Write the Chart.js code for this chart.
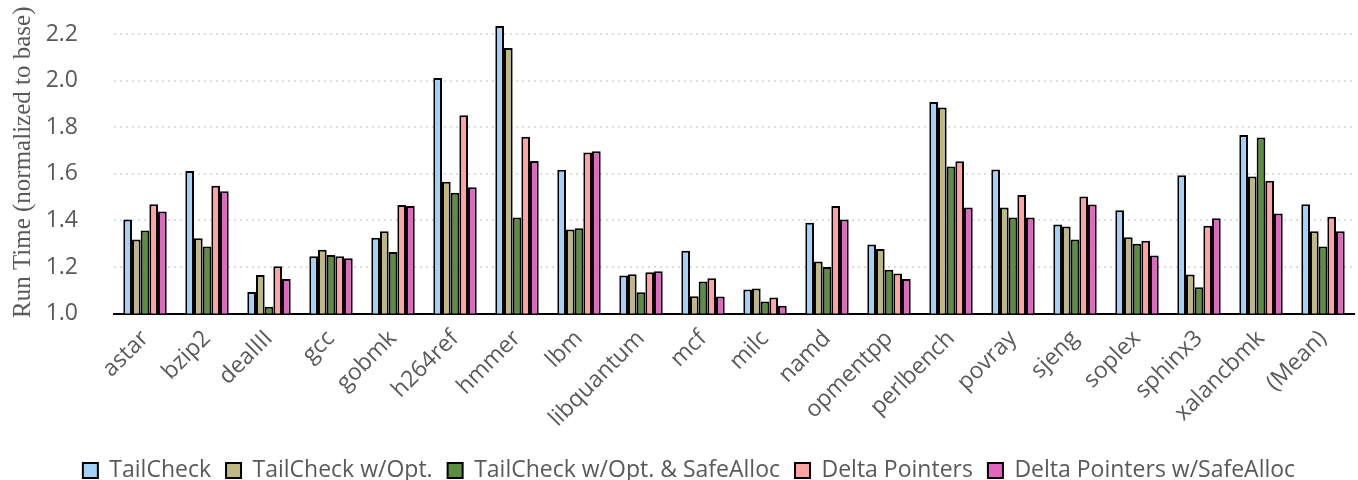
<!DOCTYPE html>
<html><head><meta charset="utf-8">
<script src="https://cdn.jsdelivr.net/npm/chart.js@4/dist/chart.umd.min.js"></script>
<style>html,body{margin:0;padding:0;background:#fff}#wrap{width:1358px;height:480px}</style>
</head><body><div id="wrap"><canvas id="c" width="1358" height="480"></canvas></div>
<script>
const cats = ["astar","bzip2","dealIII","gcc","gobmk","h264ref","hmmer","lbm","libquantum","mcf","milc","namd","opmentpp","perlbench","povray","sjeng","soplex","sphinx3","xalancbmk","(Mean)"];
const seriesNames = ["TailCheck","TailCheck w/Opt.","TailCheck w/Opt. & SafeAlloc","Delta Pointers","Delta Pointers w/SafeAlloc"];
const tailCheck      = [1.404,1.612,1.093,1.246,1.326,2.012,2.236,1.618,1.163,1.270,1.103,1.390,1.297,1.909,1.619,1.383,1.444,1.594,1.767,1.470];
const tailCheckOpt   = [1.318,1.324,1.166,1.274,1.354,1.566,2.141,1.361,1.169,1.074,1.108,1.224,1.277,1.885,1.456,1.374,1.328,1.168,1.589,1.354];
const tailCheckSafe  = [1.357,1.288,1.029,1.252,1.264,1.519,1.413,1.367,1.092,1.138,1.052,1.200,1.188,1.632,1.413,1.318,1.300,1.113,1.757,1.288];
const deltaPointers  = [1.470,1.549,1.203,1.246,1.466,1.852,1.760,1.692,1.178,1.152,1.069,1.462,1.172,1.654,1.509,1.503,1.313,1.377,1.571,1.416];
const deltaSafe      = [1.439,1.526,1.149,1.238,1.462,1.543,1.655,1.697,1.182,1.073,1.034,1.404,1.148,1.456,1.413,1.469,1.249,1.409,1.430,1.354];
const yTicks = [1.0,1.2,1.4,1.6,1.8,2.0,2.2];
const colors = ["#A3D1F7","#C0B883","#5B8F3F","#FFA3A3","#DF66C1"];
</script>
<script>
const seriesData = [tailCheck, tailCheckOpt, tailCheckSafe, deltaPointers, deltaSafe];
const FONT = "Open Sans";
new Chart(document.getElementById('c'), {
  type: 'bar',
  data: {
    labels: cats,
    datasets: seriesNames.map((n, i) => ({
      label: n,
      data: seriesData[i],
      backgroundColor: colors[i],
      borderColor: '#000',
      borderWidth: 2,
      borderSkipped: 'bottom',
      categoryPercentage: 0.7,
      barPercentage: 1.0
    }))
  },
  options: {
    responsive: false,
    animation: false,
    layout: { padding: { top: 11, right: 4, left: 24, bottom: -12 } },
    plugins: {
      legend: {
        position: 'bottom',
        labels: {
          font: { family: FONT, size: 23 },
          color: '#595959',
          boxWidth: 15, boxHeight: 15,
          padding: 15,
          generateLabels(chart) {
            return chart.data.datasets.map((d, i) => ({
              text: d.label, fillStyle: d.backgroundColor, strokeStyle: '#000', lineWidth: 2,
              datasetIndex: i, fontColor: '#595959'
            }));
          }
        }
      },
      tooltip: { enabled: false }
    },
    scales: {
      x: {
        grid: { display: false, drawTicks: false },
        border: { display: true, color: '#000', width: 2 },
        ticks: { font: { family: FONT, size: 23 }, color: '#595959', maxRotation: 45, minRotation: 45, padding: 11.5 },
        afterFit(scale) { scale.paddingLeft = 0; scale.paddingRight = 0; }
      },
      y: {
        min: 1.0, max: 2.3,
        afterBuildTicks(scale) { scale.ticks = yTicks.map(v => ({ value: v })); },
        afterFit(scale) { scale.width = 90; scale.paddingTop = 0; scale.paddingBottom = 0; },
        grid: {
          color: (ctx) => ctx.tick && ctx.tick.value === 1.0 ? 'rgba(0,0,0,0)' : '#DDDDDD',
          lineWidth: 2, drawTicks: false
        },
        border: { display: false, dash: [2, 4] },
        ticks: { font: { family: FONT, size: 23 }, color: '#595959', padding: 36, callback: v => Number(v).toFixed(1) },
        title: { display: true, text: 'Run Time (normalized to base)', font: { family: 'Liberation Serif', size: 25 }, color: '#595959', padding: { top: -16, bottom: 6 } }
      }
    }
  }
});
</script>
</body></html>
